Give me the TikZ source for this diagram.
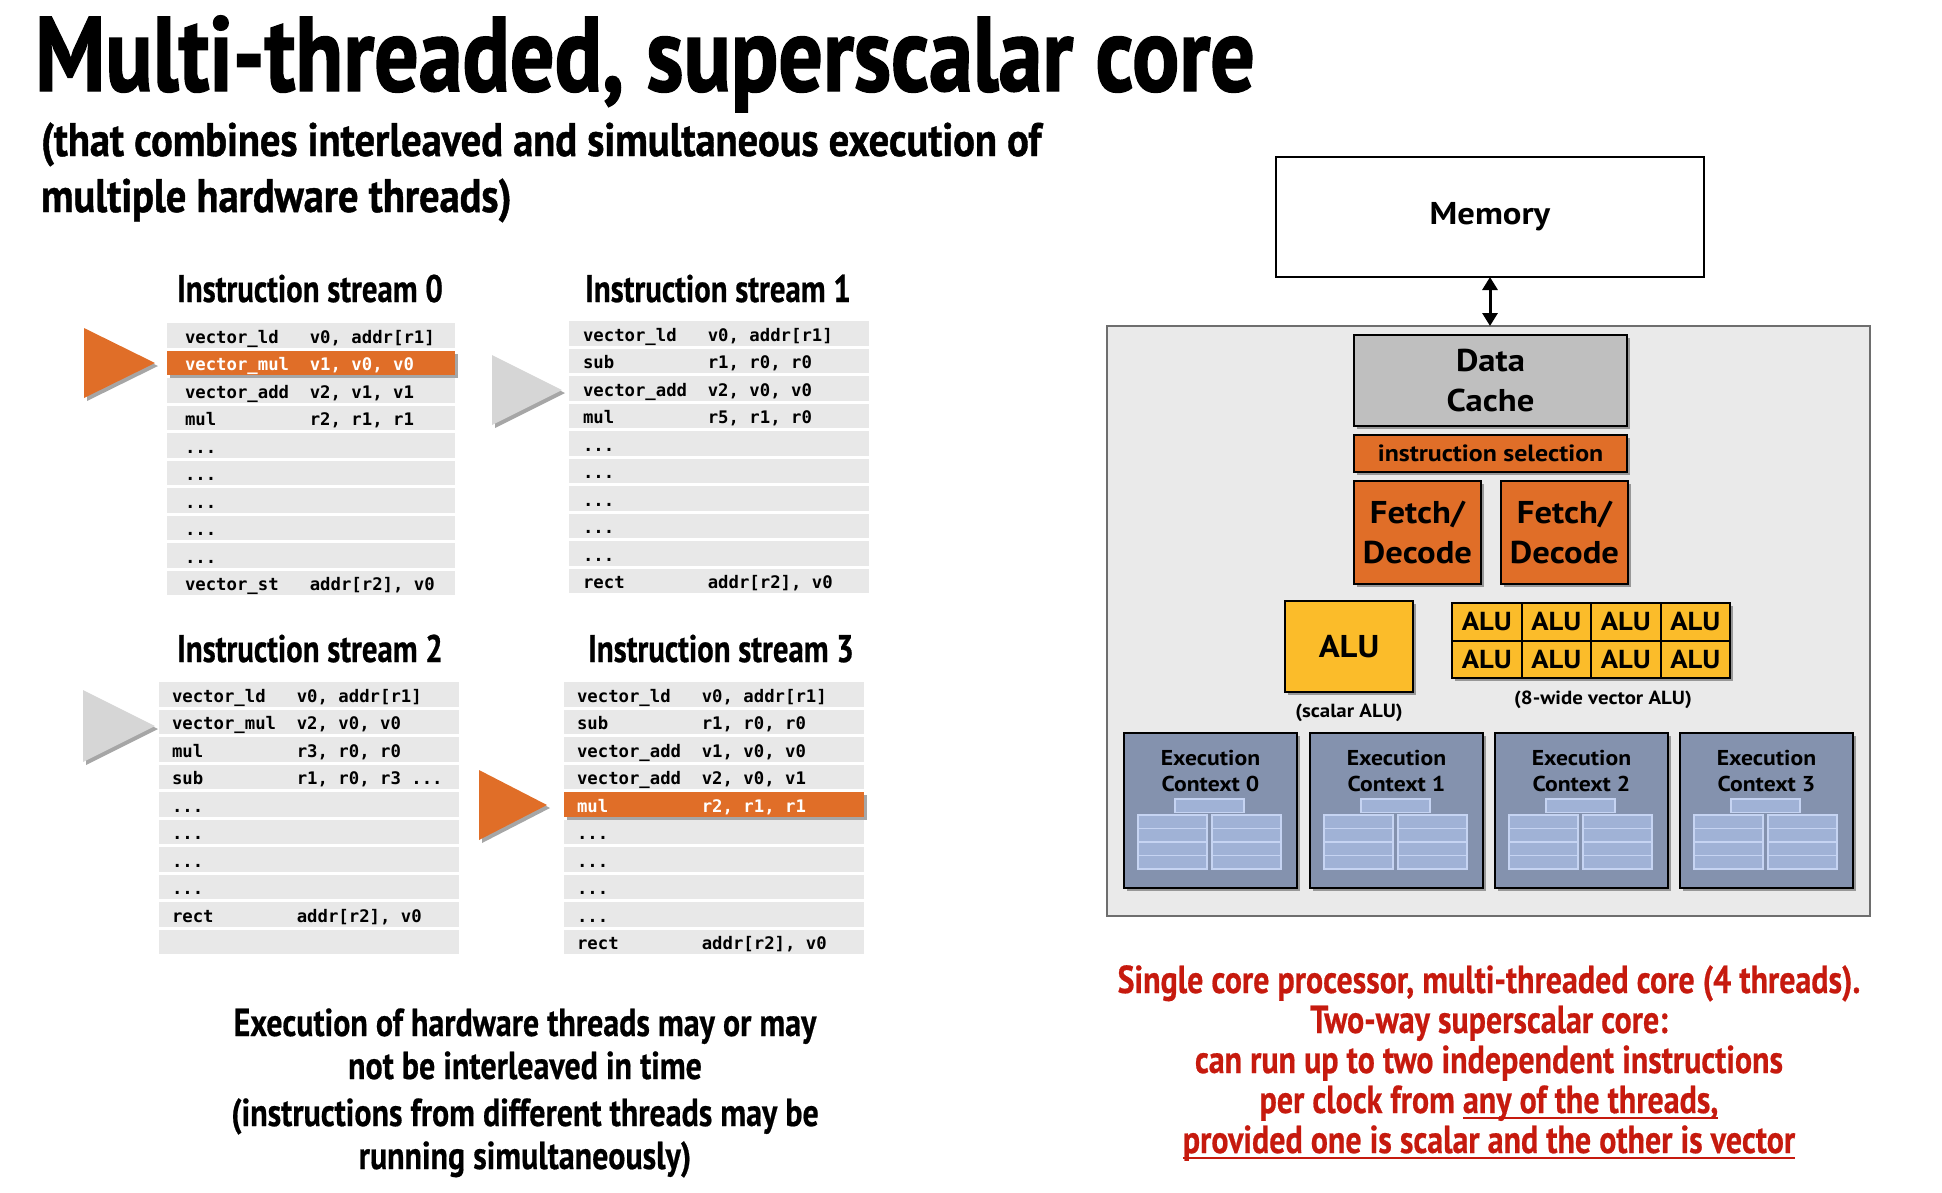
\documentclass[tikz,border=0pt]{standalone}
\usepackage{fontspec}
\usetikzlibrary{shadows,arrows.meta}
\newfontfamily\cf[FakeStretch=0.82,FakeBold=0.5]{PT Sans}
\newfontfamily\titlefont[FakeStretch=0.83,FakeBold=1.4]{PT Sans}
\newfontfamily\subfont[FakeStretch=0.86,FakeBold=0.9]{PT Sans}
\newfontfamily\streamfont[FakeStretch=0.80,FakeBold=0.6]{PT Sans}
\newfontfamily\nf[FakeStretch=1.1]{PT Sans}
\newfontfamily\mf{DejaVu Sans Mono}
\newcommand\fsz[2]{\fontsize{#1}{#2}\selectfont}
\newcommand\thul[1]{\setbox0\hbox{#1}\rlap{\vrule height -4pt depth 6.4pt width \wd0}\box0}
\definecolor{rowgray}{RGB}{232,232,232}
\definecolor{hiorange}{RGB}{224,110,40}
\definecolor{ptrgray}{RGB}{214,214,214}
\definecolor{aluyel}{RGB}{251,188,42}
\definecolor{ctxblue}{RGB}{132,146,174}
\definecolor{regfill}{RGB}{160,178,214}
\definecolor{regline}{RGB}{198,212,242}
\definecolor{corebg}{RGB}{234,234,234}
\definecolor{coreline}{RGB}{110,110,110}
\definecolor{cachegray}{RGB}{191,191,191}
\definecolor{redtxt}{RGB}{198,26,14}
\tikzset{
  every node/.style={inner sep=0pt, outer sep=0pt},
  sh/.style={drop shadow={shadow xshift=3pt, shadow yshift=-3pt, opacity=0.35, fill=black}},
  rowbox-plain/.style={anchor=north west, fill=rowgray, minimum height=24.5pt},
  rowbox-hi/.style={anchor=north west, fill=hiorange, minimum height=24.5pt, sh},
  code-plain/.style={anchor=base west, font=\mf\bfseries\fsz{17.3}{20}, text=black},
  code-hi/.style={code-plain, text=white},
  stitle/.style={anchor=base, font=\streamfont\bfseries\fsz{38.5}{44}},
  hwbox/.style={draw=black, line width=2.5pt, align=center, font=\nf\bfseries\fsz{31.5}{40}, sh},
  valu/.style={draw=black, line width=2pt, fill=aluyel, minimum width=69.5pt, minimum height=37.5pt, font=\nf\bfseries\fsz{26}{30}},
  ctx/.style={draw=black, line width=2.5pt, fill=ctxblue, minimum width=173pt, minimum height=155pt, sh},
  ctxlab/.style={anchor=base, font=\nf\bfseries\fsz{21.5}{26}},
  reg/.style={draw=regline, line width=1.5pt, fill=regfill, minimum width=69pt, minimum height=13.5pt},
  alucap/.style={anchor=base, font=\nf\bfseries\fsz{19}{24}},
  ptr-or/.style={fill=hiorange, sh},
  ptr-gr/.style={fill=ptrgray, sh},
  para/.style={anchor=base, align=center, font=\cf\bfseries\fsz{39}{43}},
}
\newcommand\cc[2]{\makebox[124.8pt][l]{#1}#2}
\newcommand\irow[7]{%
  \node[rowbox-#7, minimum width=#4pt] (#1) at (#2,#3) {};
  \node[code-#7] (#1t) at ([xshift=#5pt, yshift=-20pt]#1.north west) {#6};
}
\newcommand\ectx[3]{%
  \node[ctx] (#1) at (#2+86.5,810.5) {};
  \node[ctxlab] (#1a) at (#2+86.5,765) {Execution};
  \node[ctxlab] (#1b) at (#2+86.5,791) {Context #3};
  \node[reg] (#1r) at (#2+85.5,805.5) {};
  \foreach \j in {0,1,2,3}{
    \node[reg] (#1l\j) at (#2+48.5,821.75+13.5*\j) {};
    \node[reg] (#1m\j) at (#2+122.5,821.75+13.5*\j) {};
  }
}
\begin{document}
\begin{tikzpicture}[x=1pt,y=-1pt]
\useasboundingbox (0,0) rectangle (1942,1192);
% titles
\node[anchor=base west, font=\titlefont\bfseries\fsz{106}{110}] (title) at (35,91) {Multi-threaded, superscalar core};
\node[anchor=base west, font=\subfont\bfseries\fsz{47}{56}, align=left] (sub) at (41,212) {(that combines interleaved and simultaneous execution of\\multiple hardware threads)};
% stream titles
\node[stitle] (st0) at (310,302) {Instruction stream 0};
\node[stitle] (st1) at (718,302) {Instruction stream 1};
\node[stitle] (st2) at (310,662) {Instruction stream 2};
\node[stitle] (st3) at (721,662) {Instruction stream 3};
% stream 0
\irow{a0}{167}{323}{288}{18}{\cc{vector\_ld}{v0, addr[r1]}}{plain}
\irow{a2}{167}{378}{288}{18}{\cc{vector\_add}{v2, v1, v1}}{plain}
\irow{a3}{167}{405.5}{288}{18}{\cc{mul}{r2, r1, r1}}{plain}
\irow{a4}{167}{433}{288}{18}{...}{plain}
\irow{a5}{167}{460.5}{288}{18}{...}{plain}
\irow{a6}{167}{488}{288}{18}{...}{plain}
\irow{a7}{167}{515.5}{288}{18}{...}{plain}
\irow{a8}{167}{543}{288}{18}{...}{plain}
\irow{a9}{167}{570.5}{288}{18}{\cc{vector\_st}{addr[r2], v0}}{plain}
\irow{a1}{167}{350.5}{288}{18}{\cc{vector\_mul}{v1, v0, v0}}{hi}
% stream 1
\irow{b0}{569}{321}{300}{14}{\cc{vector\_ld}{v0, addr[r1]}}{plain}
\irow{b1}{569}{348.5}{300}{14}{\cc{sub}{r1, r0, r0}}{plain}
\irow{b2}{569}{376}{300}{14}{\cc{vector\_add}{v2, v0, v0}}{plain}
\irow{b3}{569}{403.5}{300}{14}{\cc{mul}{r5, r1, r0}}{plain}
\irow{b4}{569}{431}{300}{14}{...}{plain}
\irow{b5}{569}{458.5}{300}{14}{...}{plain}
\irow{b6}{569}{486}{300}{14}{...}{plain}
\irow{b7}{569}{513.5}{300}{14}{...}{plain}
\irow{b8}{569}{541}{300}{14}{...}{plain}
\irow{b9}{569}{568.5}{300}{14}{\cc{rect}{addr[r2], v0}}{plain}
% stream 2
\irow{c0}{159}{682}{300}{13}{\cc{vector\_ld}{v0, addr[r1]}}{plain}
\irow{c1}{159}{709.5}{300}{13}{\cc{vector\_mul}{v2, v0, v0}}{plain}
\irow{c2}{159}{737}{300}{13}{\cc{mul}{r3, r0, r0}}{plain}
\irow{c3}{159}{764.5}{300}{13}{\cc{sub}{r1, r0, r3 ...}}{plain}
\irow{c4}{159}{792}{300}{13}{...}{plain}
\irow{c5}{159}{819.5}{300}{13}{...}{plain}
\irow{c6}{159}{847}{300}{13}{...}{plain}
\irow{c7}{159}{874.5}{300}{13}{...}{plain}
\irow{c8}{159}{902}{300}{13}{\cc{rect}{addr[r2], v0}}{plain}
\irow{c9}{159}{929.5}{300}{13}{}{plain}
% stream 3
\irow{d0}{564}{682}{300}{13}{\cc{vector\_ld}{v0, addr[r1]}}{plain}
\irow{d1}{564}{709.5}{300}{13}{\cc{sub}{r1, r0, r0}}{plain}
\irow{d2}{564}{737}{300}{13}{\cc{vector\_add}{v1, v0, v0}}{plain}
\irow{d3}{564}{764.5}{300}{13}{\cc{vector\_add}{v2, v0, v1}}{plain}
\irow{d5}{564}{819.5}{300}{13}{...}{plain}
\irow{d6}{564}{847}{300}{13}{...}{plain}
\irow{d7}{564}{874.5}{300}{13}{...}{plain}
\irow{d8}{564}{902}{300}{13}{...}{plain}
\irow{d9}{564}{929.5}{300}{13}{\cc{rect}{addr[r2], v0}}{plain}
\irow{d4}{564}{792}{300}{13}{\cc{mul}{r2, r1, r1}}{hi}
% pointers
\fill[ptr-or] (84,328) -- (155,363) -- (84,398) -- cycle;
\fill[ptr-gr] (492,355) -- (562,390) -- (492,425) -- cycle;
\fill[ptr-gr] (83,690) -- (155,726) -- (83,762) -- cycle;
\fill[ptr-or] (479,770) -- (547,805) -- (479,840) -- cycle;
% bottom left text
\node[para] (exec) at (525,1079) {Execution of hardware threads may or may\\not be interleaved in time};
\node[para] (instr) at (525,1169) {(instructions from different threads may be\\running simultaneously)};
% right: core
\node[draw=coreline, line width=2pt, fill=corebg, minimum width=763pt, minimum height=590pt] (core) at (1488.5,621) {};
\node[draw=black, line width=2.5pt, fill=white, minimum width=428pt, minimum height=120pt, font=\nf\bfseries\fsz{31.5}{40}] (mem) at (1490,217) {Memory};
\draw[line width=3pt, {Triangle[width=15pt,length=13pt]}-{Triangle[width=15pt,length=13pt]}] (mem.south) -- (mem.south |- core.north);
\node[hwbox, fill=cachegray, minimum width=273pt, minimum height=91pt] (cache) at (1490.5,380.5) {Data\\Cache};
\node[hwbox, fill=hiorange, minimum width=273pt, minimum height=37pt, font=\nf\bfseries\fsz{23.5}{28}] (isel) at (1490.5,453.5) {instruction selection};
\node[hwbox, fill=hiorange, minimum width=127pt, minimum height=103pt] (fd1) at (1417.5,532.5) {Fetch/\\Decode};
\node[hwbox, fill=hiorange, minimum width=127pt, minimum height=103pt] (fd2) at (1564.5,532.5) {Fetch/\\Decode};
\node[hwbox, fill=aluyel, minimum width=128pt, minimum height=91pt] (salu) at (1349,646.5) {ALU};
\node[alucap] (scap) at (1349,717) {(scalar ALU)};
\node[draw=black, line width=2.5pt, minimum width=278pt, minimum height=75pt, sh, fill=aluyel] (vgrid) at (1591,640.5) {};
\foreach \c [count=\k from 0] in {1486.75,1556.25,1625.75,1695.25}{
  \node[valu] (va\k) at (\c,621.75) {ALU};
  \node[valu] (vb\k) at (\c,659.25) {ALU};
}
\node[alucap] (vcap) at (1603,704) {(8-wide vector ALU)};
\ectx{e0}{1124}{0}
\ectx{e1}{1310}{1}
\ectx{e2}{1495}{2}
\ectx{e3}{1680}{3}
% red text
\node[para, font=\cf\bfseries\fsz{39}{40}, text=redtxt] (red) at (1489,1153) {Single core processor, multi-threaded core (4 threads).\\Two-way superscalar core:\\can run up to two independent instructions\\per clock from \thul{any of the threads,}\\\thul{provided one is scalar and the other is vector}};
\end{tikzpicture}
\end{document}
